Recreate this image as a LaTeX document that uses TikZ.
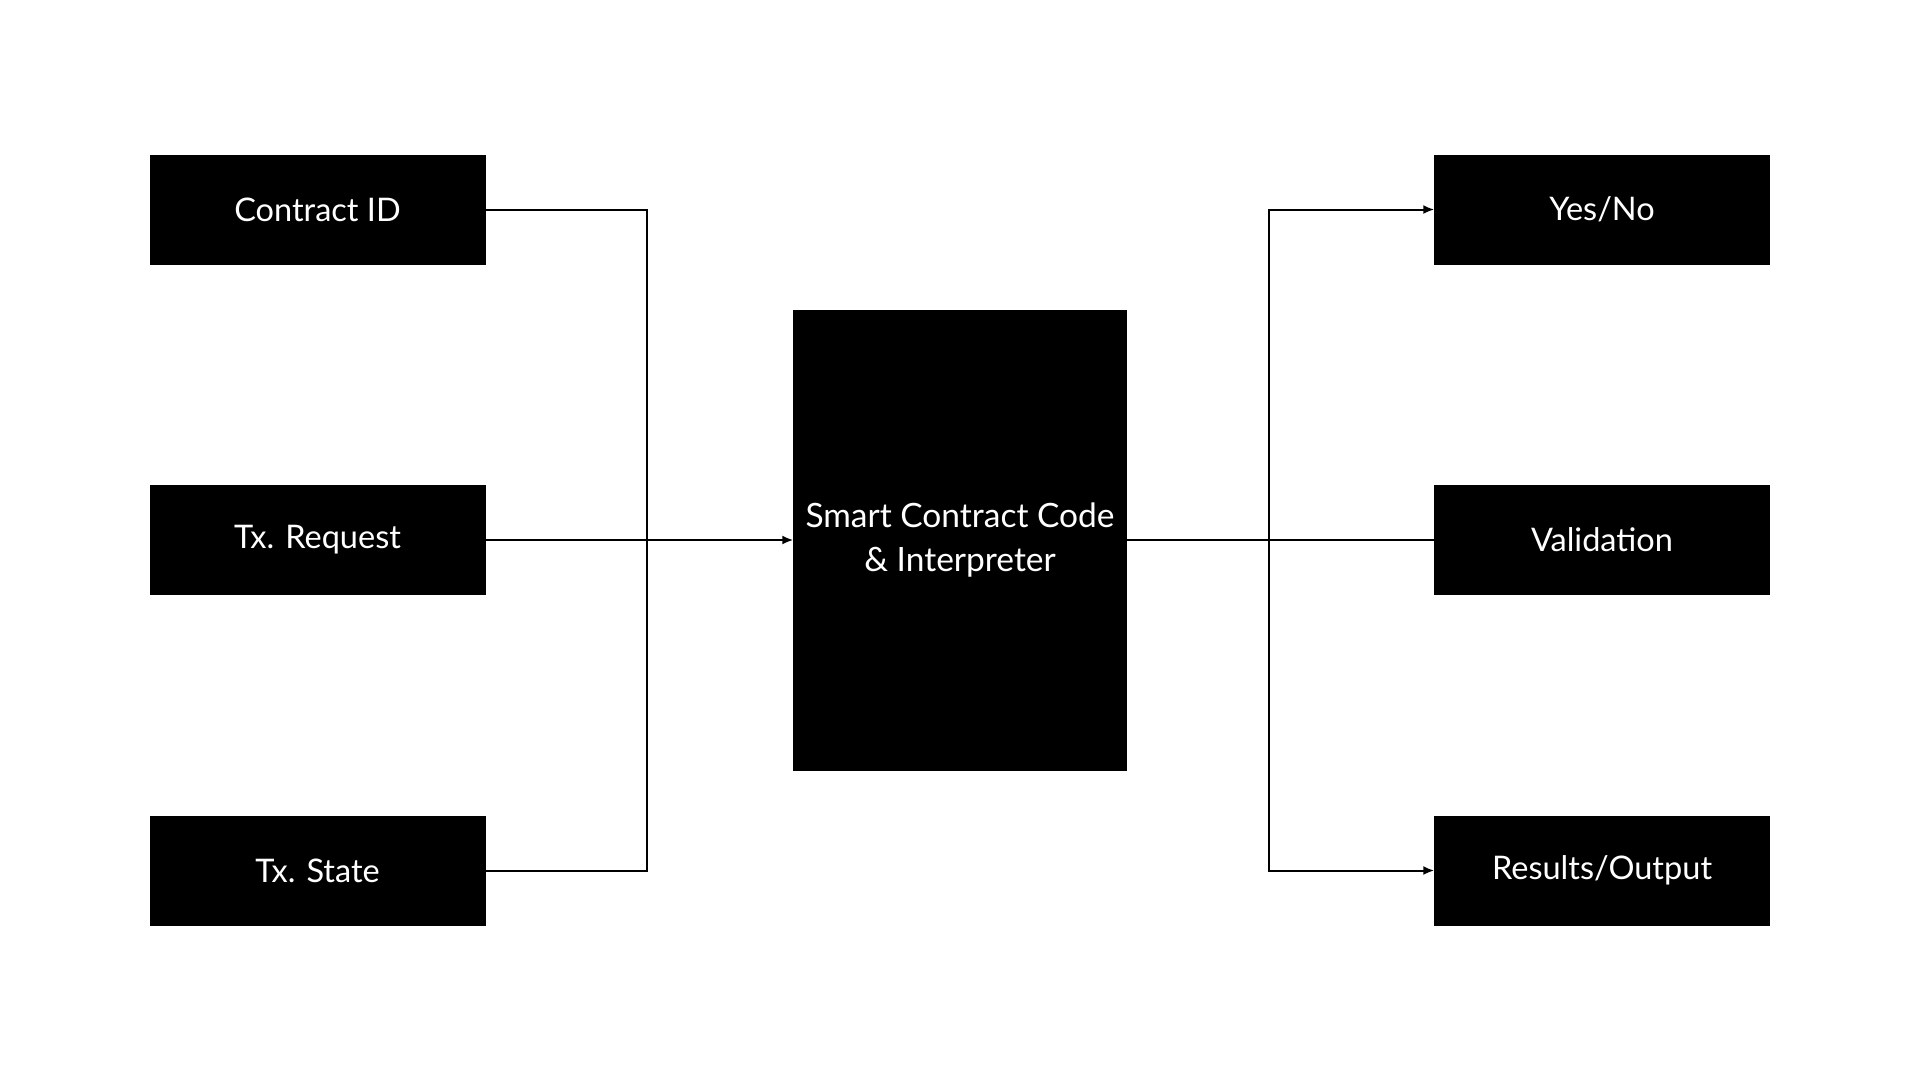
\documentclass[tikz,border=0pt]{standalone}
\usepackage{fontspec}
\setmainfont{Lato}
\usetikzlibrary{arrows.meta}
\begin{document}
\begin{tikzpicture}[x=1pt,y=-1pt,
  blk/.style={fill=black,draw=black,text=white,inner sep=0pt,minimum width=335pt,minimum height=109pt,font=\fontsize{32.5}{44}\selectfont,align=center},
  conn/.style={line width=2pt,draw=black},
  arr/.style={conn,-{Latex[length=11pt,width=9pt]}}]
\useasboundingbox (0,0) rectangle (1920,1080);
\node[blk] (cid) at (317.5,209.5) {Contract ID};
\node[blk] (treq) at (317.5,540) {Tx. Request};
\node[blk] (tst) at (317.5,870.5) {Tx. State};
\node[blk,minimum height=460pt,minimum width=333pt,font=\fontsize{33.5}{44}\selectfont] (core) at (960,540) {Smart Contract Code\\\& Interpreter};
\node[blk] (yes) at (1602,209.5) {Yes/No};
\node[blk] (val) at (1602,540) {Validation};
\node[blk] (res) at (1602,870.5) {Results/Output};
\coordinate (jl) at (646.5,540);
\coordinate (jr) at (1269,540);
\draw[conn] (cid.east) -| (jl);
\draw[conn] (tst.east) -| (jl);
\draw[arr] (treq.east) -- (core.west);
\draw[conn] (core.east) -- (val.west);
\draw[arr] (jr) |- (yes.west);
\draw[arr] (jr) |- (res.west);
\end{tikzpicture}
\end{document}
